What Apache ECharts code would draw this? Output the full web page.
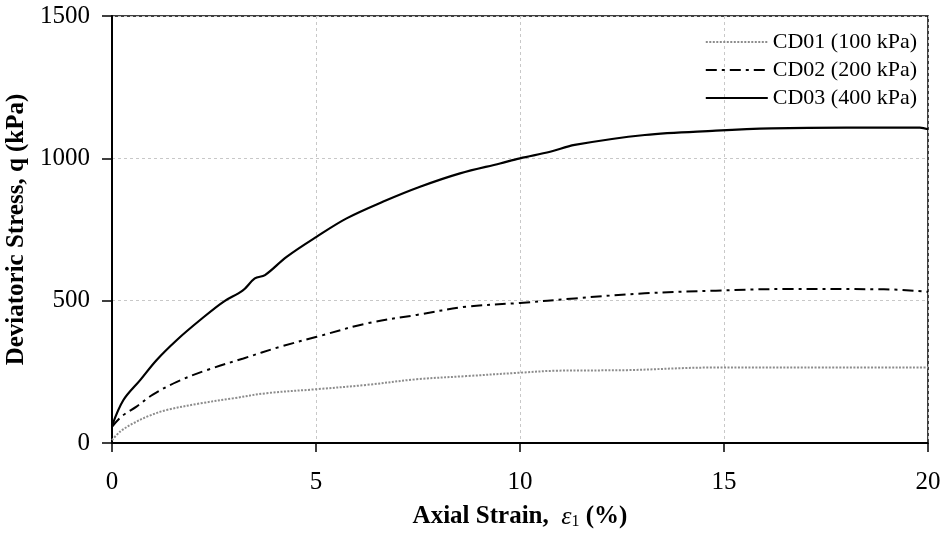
<!DOCTYPE html>
<html>
<head>
<meta charset="utf-8">
<script src="https://cdn.jsdelivr.net/npm/echarts@6/dist/echarts.min.js"></script>
<style>html,body{margin:0;padding:0;background:#fff}#c{width:950px;height:537px}</style>
</head>
<body>
<div id="c"></div>
<script>
var seriesNames = ['CD01 (100 kPa)', 'CD02 (200 kPa)', 'CD03 (400 kPa)'];
var xTicks = [0, 5, 10, 15, 20];
var yTicks = [0, 500, 1000, 1500];

var strain01 = [0, 0.2, 0.52, 0.9, 1.34, 2.16, 2.97, 3.79, 5.02, 6.24, 7.47, 8.69, 10.0, 10.9, 12.63, 14.7, 17, 20];
var q01      = [10, 40, 69, 95, 116, 139, 157, 175, 189, 204, 224, 235, 247, 254, 256, 265, 265, 265];

var strain02 = [0, 0.25, 0.6, 1.0, 1.59, 2.32, 3.22, 4.12, 5.02, 6.24, 7.47, 8.69, 10.0, 11.34, 13.06, 14.8, 16.51, 18.92, 20];
var q02      = [57, 95, 128, 170, 215, 256, 297, 338, 373, 420, 450, 479, 492, 508, 526, 535, 541, 540, 531];

var strain03 = [0, 0.28, 0.69, 1.09, 1.59, 2.16, 2.73, 3.2, 3.5, 3.75, 4.28, 5.02, 5.75, 6.65, 7.55, 8.53, 9.51, 10.0, 10.74, 11.34, 13.06, 14.8, 16.16, 18, 19.8, 20];
var q03      = [60, 151, 221, 291, 362, 432, 496, 535, 578, 590, 654, 725, 789, 848, 900, 947, 982, 1000, 1023, 1047, 1082, 1097, 1105, 1108, 1108, 1102];

function pairs(xs, ys) { return xs.map(function (x, i) { return [x, ys[i]]; }); }

var FONT = '"Liberation Serif", "Times New Roman", serif';
var chart = echarts.init(document.getElementById('c'));
chart.setOption({
  animation: false,
  backgroundColor: '#fff',
  textStyle: { fontFamily: FONT, color: '#000' },
  grid: { left: 112, right: 22, top: 16, bottom: 94, containLabel: false, outerBoundsMode: 'none',
          show: true, borderColor: '#000', borderWidth: 1.5, backgroundColor: 'transparent' },
  legend: {
    data: seriesNames,
    right: 28, top: 26, orient: 'vertical', align: 'left',
    itemWidth: 62, itemHeight: 14, itemGap: 6,
    itemStyle: { opacity: 0 },
    textStyle: { fontFamily: FONT, fontSize: 22, lineHeight: 22, color: '#000' }
  },
  xAxis: {
    type: 'value', min: xTicks[0], max: xTicks[xTicks.length - 1], interval: 5,
    axisLine: { show: true, onZero: false, lineStyle: { color: '#000', width: 2 } },
    axisTick: { show: true, length: 9, lineStyle: { color: '#000', width: 1.5 } },
    axisLabel: { fontFamily: FONT, fontSize: 25, color: '#000', margin: 27, formatter: function (v) { return String(v); } },
    splitLine: { show: true, lineStyle: { color: '#c8c8c8', type: [3, 3], width: 1 } },
    name: '{b|Axial Strain,  }{e|ε}{s|1}{b| (%)}',
    nameLocation: 'middle', nameGap: 61,
    nameTextStyle: {
      rich: {
        b: { fontFamily: FONT, fontSize: 25, fontWeight: 'bold', color: '#000' },
        e: { fontFamily: FONT, fontSize: 26, fontStyle: 'italic', color: '#000' },
        s: { fontFamily: FONT, fontSize: 16, color: '#000', verticalAlign: 'bottom', padding: [10, 0, 0, 0] }
      }
    }
  },
  yAxis: {
    type: 'value', min: yTicks[0], max: yTicks[yTicks.length - 1], interval: 500,
    axisLine: { show: true, lineStyle: { color: '#000', width: 2 } },
    axisTick: { show: true, length: 10, lineStyle: { color: '#000', width: 1.5 } },
    axisLabel: { fontFamily: FONT, fontSize: 25, color: '#000', margin: 22, formatter: function (v) { return String(v); } },
    splitLine: { show: true, lineStyle: { color: '#c8c8c8', type: [3, 3], width: 1 } },
    name: 'Deviatoric Stress, q (kPa)',
    nameLocation: 'middle', nameGap: 77,
    nameTextStyle: { fontFamily: FONT, fontSize: 25, fontWeight: 'bold', color: '#000' }
  },
  series: [
    { name: seriesNames[0], type: 'line', data: pairs(strain01, q01), showSymbol: false, symbol: 'none', smooth: 0.35,
      itemStyle: { color: '#8c8c8c' },
      lineStyle: { color: '#8c8c8c', width: 2, type: [2, 1.5] } },
    { name: seriesNames[1], type: 'line', data: pairs(strain02, q02), showSymbol: false, symbol: 'none', smooth: 0.35,
      itemStyle: { color: '#000' },
      lineStyle: { color: '#000', width: 2, type: [11, 5, 3, 5] } },
    { name: seriesNames[2], type: 'line', data: pairs(strain03, q03), showSymbol: false, symbol: 'none', smooth: 0.35,
      itemStyle: { color: '#000' },
      lineStyle: { color: '#000', width: 2.2, type: 'solid' } }
  ]
});
</script>
</body>
</html>
